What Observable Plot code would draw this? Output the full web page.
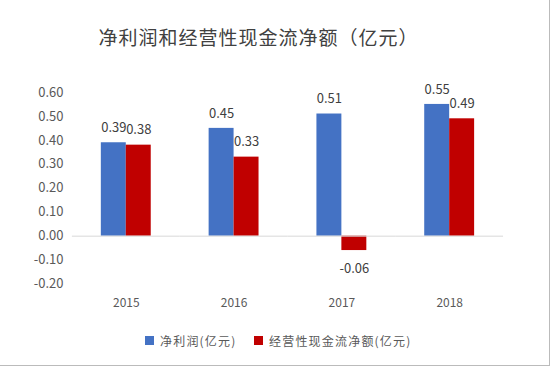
<!DOCTYPE html>
<html>
<head>
<meta charset="utf-8">
<script src="https://cdn.jsdelivr.net/npm/d3@7"></script>
<script src="https://cdn.jsdelivr.net/npm/@observablehq/plot@0.6"></script>
<style>
  html, body { margin: 0; padding: 0; background: #fff; }
  #wrap { position: relative; width: 550px; height: 366px; box-sizing: border-box; border-right: 1px solid #bbb; border-bottom: 1px solid #bbb; overflow: hidden; font-family: "Noto Sans CJK SC", "Noto Sans", sans-serif; }
  #title { height: 66px; line-height: 74px; text-align: center; padding-right: 32px; font-size: 19px; color: #404040; letter-spacing: 1px; }
  #legend { position: absolute; left: 0; top: 330px; width: 550px; height: 20px; font-size: 12px; color: #595959; }
  .lg { position: absolute; top: 0; display: flex; align-items: center; height: 20px; }
  .sw { width: 9px; height: 9px; margin-right: 6px; }
  svg { display: block; }
</style>
</head>
<body>
<div id="wrap">
  <div id="title">净利润和经营性现金流净额（亿元）</div>
  <div id="chart"></div>
  <div id="legend"></div>
</div>
<script>
const years = ["2015", "2016", "2017", "2018"];
const seriesNames = ["净利润(亿元)", "经营性现金流净额(亿元)"];
const netProfit = [0.39, 0.45, 0.51, 0.55];
const operatingCash = [0.38, 0.33, -0.06, 0.49];
const yTicks = [-0.2, -0.1, 0, 0.1, 0.2, 0.3, 0.4, 0.5, 0.6];
const colors = ["#4472C4", "#C00000"];

const data = [];
years.forEach((y, i) => {
  data.push({year: y, series: seriesNames[0], value: netProfit[i]});
  data.push({year: y, series: seriesNames[1], value: operatingCash[i]});
});

const chart = Plot.plot({
  width: 550,
  height: 250,
  marginTop: 26,
  marginBottom: 32,
  marginLeft: 72,
  marginRight: 46,
  style: {fontFamily: "'Noto Sans CJK SC', 'Noto Sans', sans-serif", fontSize: "12px", color: "#595959", background: "transparent"},
  fx: {domain: years, padding: 0, label: null, axis: null},
  x: {domain: seriesNames, paddingInner: 0, paddingOuter: 1.08, axis: null},
  y: {domain: [-0.2, 0.6], ticks: yTicks, label: null, tickFormat: d => d.toFixed(2)},
  color: {domain: seriesNames, range: colors},
  marks: [
    Plot.axisY({ticks: yTicks, tickSize: 0, tickPadding: 9, tickFormat: d => d.toFixed(2), label: null, fill: "#595959", fontSize: 13, style: {letterSpacing: "1.2px"}}),
    Plot.axisFx({anchor: "bottom", tickSize: 0, tickPadding: 14, label: null, fontSize: 12, fill: "#595959"}),
    Plot.barY(data, {fx: "year", x: "series", y: "value", fill: "series"}),
    Plot.ruleY([0], {stroke: "#d9d9d9", strokeWidth: 1}),
    Plot.text(data.filter(d => d.value >= 0), {fx: "year", x: "series", y: "value", text: d => d.value.toFixed(2), dy: -15, fill: "#404040", fontSize: 13, style: {letterSpacing: "1.5px"}}),
    Plot.text(data.filter(d => d.value < 0), {fx: "year", x: "series", y: "value", text: d => d.value.toFixed(2), dy: 18, fill: "#404040", fontSize: 13, style: {letterSpacing: "1.5px"}})
  ]
});
document.getElementById("chart").appendChild(chart);

const legend = document.getElementById("legend");
const lgX = [145, 254];
seriesNames.forEach((s, i) => {
  const d = document.createElement("div");
  d.className = "lg";
  d.style.left = lgX[i] + "px";
  d.innerHTML = `<span class="sw" style="background:${colors[i]}"></span><span style="letter-spacing:1.2px">${s}</span>`;
  legend.appendChild(d);
});
</script>
</body>
</html>
